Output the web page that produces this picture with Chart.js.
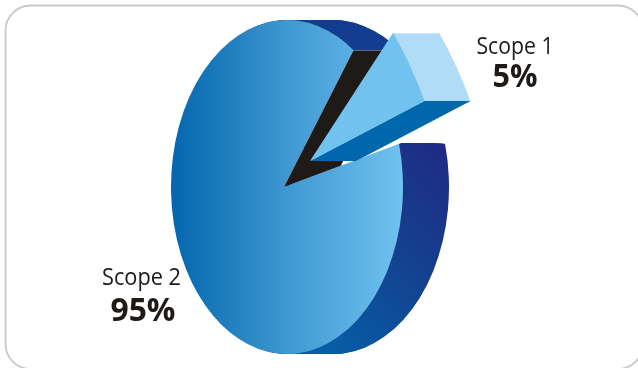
<!DOCTYPE html>
<html>
<head>
<meta charset="utf-8">
<style>
  html, body { margin: 0; padding: 0; background: #fff; }
  canvas { display: block; }
</style>
<script src="https://cdn.jsdelivr.net/npm/chart.js@4"></script>
</head>
<body>
<canvas id="c" width="638" height="368"></canvas>
<script>
const categories = ['Scope 1', 'Scope 2'];
const shares = [5, 95];

// Tilted-disc geometry, in canvas pixels and degrees clockwise from twelve o'clock.
const disc = { cx: 287, cy: 187, rx: 116, ry: 167, apexX: 284, depth: 46 };
const opening = { from: 35, to: 75 };
const pulled = { apexX: 310, apexY: 161, from: 43, to: 70, reach: 1.05, depth: 46 };
const captions = [
  { nameX: 515, nameY: 54, nameW: 77, valueX: 515, valueY: 87, valueW: 45 },
  { nameX: 141.5, nameY: 285, nameW: 79, valueX: 143, valueY: 321, valueW: 65 }
];

const onRim = (deg, k = 1) => ({
  x: disc.rx * k * Math.sin(deg * Math.PI / 180),
  y: -disc.ry * k * Math.cos(deg * Math.PI / 180)
});

// Paints an arc element with a temporary fill, leaving its resolved options alone.
function paint(ctx, el, fill) {
  const saved = el.options;
  el.options = {
    backgroundColor: fill, borderColor: 'rgba(0,0,0,0)', borderWidth: 0,
    borderAlign: 'center', borderRadius: 0, offset: 0, spacing: 0, circular: true
  };
  el.draw(ctx);
  el.options = saved;
}

function poly(ctx, pts) {
  ctx.beginPath();
  pts.forEach((p, i) => (i ? ctx.lineTo(p.x, p.y) : ctx.moveTo(p.x, p.y)));
  ctx.closePath();
}

const tiltedPie = {
  id: 'tiltedPie',
  beforeDraw(chart) {
    const { ctx } = chart;
    ctx.save();
    ctx.strokeStyle = '#c9c9c9';
    ctx.lineWidth = 1.8;
    ctx.beginPath();
    ctx.roundRect(5.5, 5.5, 637.5, 363.5, 25);
    ctx.stroke();
    ctx.restore();
  },
  beforeDatasetsDraw(chart) {
    const { ctx } = chart;
    const [minor, major] = chart.getDatasetMeta(0).data;
    const W = chart.width;
    const R = major.outerRadius;
    const sx = R / disc.rx, sy = R / disc.ry;

    const squash = (dx) => {
      ctx.translate(disc.cx + dx, disc.cy);
      ctx.scale(1 / sx, 1 / sy);
      ctx.translate(-major.x, -major.y);
    };
    // Screen position expressed in the squashed frame of a sweep step.
    const localX = (x, dx) => major.x + (x - disc.cx - dx) * sx;
    const localY = (y) => major.y + (y - disc.cy) * sy;

    const topCut = disc.cy + onRim(opening.from).y;
    const lowCut = disc.cy + onRim(opening.to).y;

    // Outer wall of the disc, seen above and below the opening.
    const wallFill = (dx) => {
      const g = ctx.createLinearGradient(localX(440, dx), localY(140), localX(320, dx), localY(356));
      g.addColorStop(0, '#1f2a85');
      g.addColorStop(0.45, '#14418f');
      g.addColorStop(1, '#0560a9');
      return g;
    };
    [[0, topCut, () => '#153e90'], [lowCut, chart.height - lowCut, wallFill]].forEach(([y, h, fill]) => {
      ctx.save();
      ctx.beginPath();
      ctx.rect(0, y, W, h);
      ctx.clip();
      for (let t = disc.depth; t >= 1; t--) {
        ctx.save();
        squash(t);
        paint(ctx, major, fill(t));
        ctx.restore();
      }
      ctx.restore();
    });

    // Front face of the large slice.
    ctx.save();
    squash(0);
    const faceFill = ctx.createLinearGradient(localX(disc.cx - disc.rx, 0), 0, localX(disc.cx + disc.rx, 0), 0);
    faceFill.addColorStop(0, '#0366ae');
    faceFill.addColorStop(0.5, '#3f98d1');
    faceFill.addColorStop(1, '#70c2ef');
    paint(ctx, major, faceFill);
    ctx.restore();

    // Opening in the face, with its dark inner wall.
    const apex = { x: disc.apexX, y: disc.cy };
    const edge = (deg) => ({ x: disc.cx + onRim(deg).x, y: disc.cy + onRim(deg).y });
    const far = (deg) => {
      const p = edge(deg);
      return { x: apex.x + (p.x - apex.x) * 1.5, y: apex.y + (p.y - apex.y) * 1.5 };
    };
    ctx.save();
    ctx.beginPath();
    ctx.rect(0, topCut, W, chart.height - topCut);
    ctx.clip();
    poly(ctx, [apex, far(opening.from), far(opening.to)]);
    ctx.fillStyle = '#ffffff';
    ctx.fill();
    ctx.clip();
    const top = edge(opening.from);
    poly(ctx, [
      { x: apex.x - 2, y: apex.y },
      { x: top.x - 2, y: top.y },
      { x: top.x + disc.depth, y: top.y },
      { x: apex.x + disc.depth, y: apex.y }
    ]);
    ctx.fillStyle = '#1d1a18';
    ctx.fill();
    ctx.restore();

    // The pulled-out slice: its own affine frame carries the native arc onto its face.
    const A = { x: pulled.apexX, y: pulled.apexY };
    const p1 = onRim(pulled.from, pulled.reach);
    const p2 = onRim(pulled.to, pulled.reach);
    const u1 = { x: R * Math.cos(minor.startAngle), y: R * Math.sin(minor.startAngle) };
    const u2 = { x: R * Math.cos(minor.endAngle), y: R * Math.sin(minor.endAngle) };
    const det = u1.x * u2.y - u2.x * u1.y;
    const a = (p1.x * u2.y - p2.x * u1.y) / det;
    const c = (p2.x * u1.x - p1.x * u2.x) / det;
    const b = (p1.y * u2.y - p2.y * u1.y) / det;
    const d = (p2.y * u1.x - p1.y * u2.x) / det;
    const frame = (dx) => {
      ctx.transform(a, b, c, d, A.x + dx, A.y);
      ctx.translate(-minor.x, -minor.y);
    };
    for (let t = pulled.depth; t >= 1; t--) {
      ctx.save();
      frame(t);
      paint(ctx, minor, '#b0dcf7');
      ctx.restore();
    }
    const low = { x: A.x + p2.x, y: A.y + p2.y };
    poly(ctx, [A, low, { x: low.x + pulled.depth, y: low.y }, { x: A.x + pulled.depth, y: A.y }]);
    ctx.fillStyle = '#0067ac';
    ctx.fill();
    ctx.save();
    frame(0);
    paint(ctx, minor, '#71c2ef');
    ctx.restore();

    return false;
  },
  afterDraw(chart) {
    const { ctx } = chart;
    ctx.save();
    ctx.fillStyle = '#1d1a18';
    ctx.textAlign = 'center';
    ctx.textBaseline = 'alphabetic';
    categories.forEach((name, i) => {
      const pos = captions[i];
      ctx.font = '400 24px "Open Sans"';
      ctx.fillText(name, pos.nameX, pos.nameY, pos.nameW);
      ctx.font = '700 33px "Open Sans"';
      ctx.fillText(shares[i] + '%', pos.valueX, pos.valueY, pos.valueW);
    });
    ctx.restore();
  }
};

new Chart(document.getElementById('c'), {
  type: 'pie',
  data: {
    labels: categories,
    datasets: [{ data: shares, borderWidth: 0, backgroundColor: ['#71c2ef', '#3f98d1'] }]
  },
  options: {
    responsive: false,
    animation: false,
    rotation: 46,
    plugins: { legend: { display: false }, tooltip: { enabled: false } }
  },
  plugins: [tiltedPie]
});
</script>
</body>
</html>
